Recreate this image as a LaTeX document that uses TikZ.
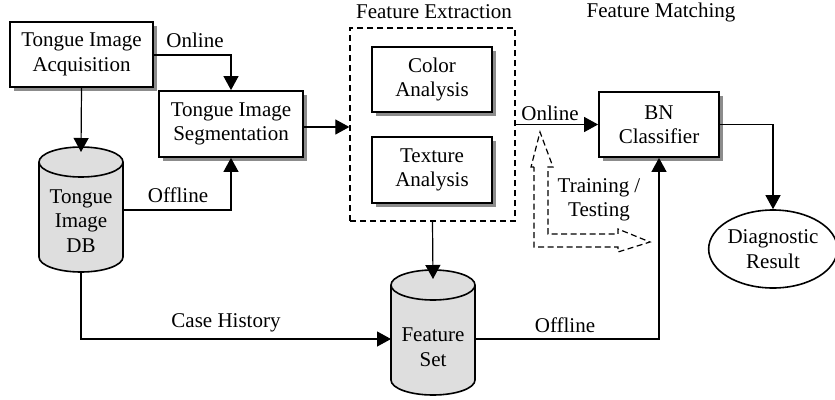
\documentclass[tikz,border=0pt]{standalone}
\usepackage{fontspec}
\setmainfont{Liberation Serif}
\usetikzlibrary{arrows.meta,shadows,shapes.geometric}
\begin{document}
\begin{tikzpicture}[x=1pt,y=1pt,
  font=\fontsize{21}{24.5}\selectfont,
  box/.style={draw, line width=1.8pt, fill=white, align=center, inner sep=0pt,
    drop shadow={shadow xshift=3.5pt, shadow yshift=-3.5pt, fill=black!45, opacity=1}},
  conn/.style={line width=1.2pt},
  arr/.style={conn, -{Triangle[length=14pt,width=15pt]}},
  lbl/.style={inner sep=0pt, align=center},
  cylfill/.style={fill=black!13, draw, line width=1.6pt},
  dsh/.style={line width=1.3pt, dash pattern=on 6pt off 4pt}
]
\useasboundingbox (0,-399) rectangle (835,0);

% boxes
\node[box, minimum width=143, minimum height=65] (acq) at (81.5,-54.5) {Tongue Image\\Acquisition};
\node[box, minimum width=144, minimum height=66] (seg) at (231,-124) {Tongue Image\\Segmentation};
\node[draw, dsh, minimum width=165, minimum height=193, inner sep=0pt] (fe) at (432.5,-124.5) {};
\node[box, minimum width=120, minimum height=65] (col) at (432,-79.5) {Color\\Analysis};
\node[box, minimum width=120, minimum height=66] (tex) at (432,-170) {Texture\\Analysis};
\node[box, minimum width=120, minimum height=65] (bn) at (659,-124.5) {BN\\Classifier};
\node[draw, ellipse, line width=1.6pt, minimum width=122, minimum height=78, inner sep=0pt, align=center] (diag) at (773,-249) {Diagnostic\\Result};

% cylinders
\draw[cylfill] (39,-162) -- (39,-257) arc (180:360:42 and 15) -- (123,-162) arc (0:180:42 and 15) -- cycle;
\draw[line width=1.6pt] (39,-162) arc (180:360:42 and 15);
\node[lbl, minimum width=84, minimum height=125] (db) at (81,-209.5) {};
\node[lbl] (dbt) at (81,-221) {Tongue\\Image\\DB};

\draw[cylfill] (391,-285) -- (391,-380) arc (180:360:42 and 15) -- (475,-285) arc (0:180:42 and 15) -- cycle;
\draw[line width=1.6pt] (391,-285) arc (180:360:42 and 15);
\node[lbl, minimum width=84, minimum height=125] (fs) at (433,-332.5) {};
\node[lbl] (fst) at (433,-347) {Feature\\Set};

% titles
\node[lbl] (tfe) at (434,-12) {Feature Extraction};
\node[lbl] (tfm) at (661,-12) {Feature Matching};

% connectors
\coordinate (c1) at (230,-55);
\draw[arr] (acq.east |- c1) -| (seg.north);
\node[lbl] (on1) at (195,-40) {Online};
\draw[arr] (acq.south) -- (81,-152);
\coordinate (c2) at (123,-210);
\draw[arr] (c2) -| (seg.south);
\node[lbl] (off1) at (178,-195) {Offline};
\draw[arr] (seg.east |- 0,-127) -- (fe.west |- 0,-127);
\draw[arr] (fe.south) -- (433,-279);
\coordinate (c3) at (81,-272);
\coordinate (c4) at (391,-339);
\draw[arr] (c3) |- (c4);
\node[lbl] (ch) at (226,-323) {Case History};
\coordinate (c5) at (475,-339);
\draw[arr] (c5) -| (bn.south);
\node[lbl] (off2) at (565,-325) {Offline};
\draw[arr] (fe.east |- bn.west) -- (bn.west);
\node[lbl] (on2) at (550,-113) {Online};
\draw[arr] (bn.east) -| (diag.north);

% training/testing hollow dashed arrow
\draw[dsh, line width=1.2pt, dash pattern=on 6pt off 3.5pt]
  (534,-167) -- (531,-167) -- (540,-132) -- (553,-167) -- (548,-167)
  -- (548,-234) -- (618,-234) -- (618,-229) -- (650,-242) -- (618,-252)
  -- (618,-247) -- (534,-247) -- cycle;
\node[lbl] (tt) at (599,-200) {Training /\\Testing};
\end{tikzpicture}
\end{document}
